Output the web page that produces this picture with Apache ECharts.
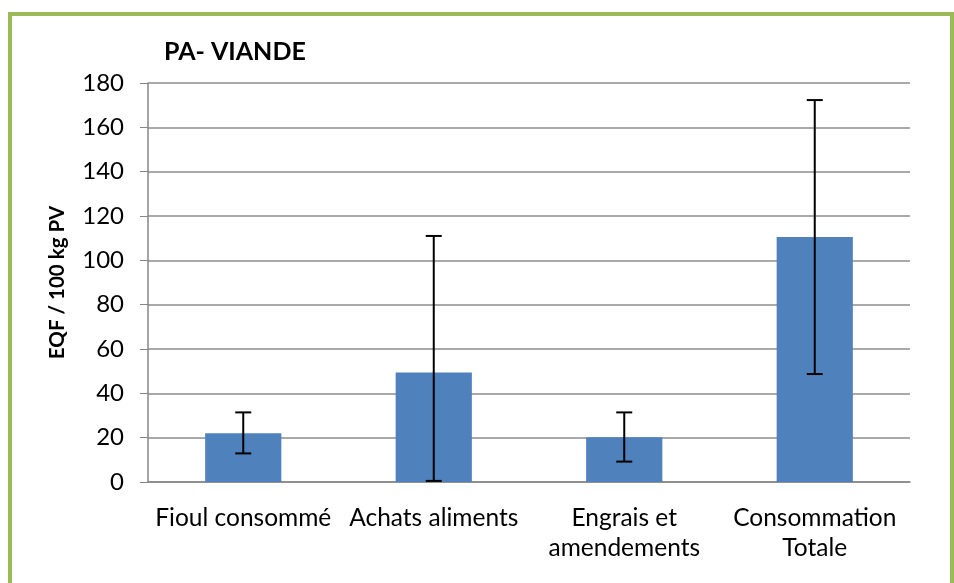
<!DOCTYPE html>
<html>
<head>
<meta charset="utf-8">
<script src="https://cdn.jsdelivr.net/npm/echarts@6/dist/echarts.min.js"></script>
<style>
  html, body { margin: 0; padding: 0; background: #fff; }
  #frame {
    position: absolute; left: 8px; top: 12px; width: 938px; height: 600px;
    border: 4px solid #9BBB59; border-bottom: none;
  }
  #main { position: absolute; left: 0; top: 0; width: 954px; height: 583px; }
</style>
</head>
<body>
<div id="frame"></div>
<div id="main"></div>
<script>
// données
var categories = ['Fioul consommé', 'Achats aliments', 'Engrais et\namendements', 'Consommation\nTotale']
var means = [22, 49.4, 20.2, 110.5]
var errLow = [12.9, 0.5, 9.2, 48.7]
var errHigh = [31.4, 111, 31.4, 172.3]
var yMin = 0
var yMax = 180
var yStep = 20

var chart = echarts.init(document.getElementById('main'))

var errData = categories.map(function (c, i) {
  return [i, errLow[i], errHigh[i]]
})

chart.setOption({
  animation: false,
  textStyle: { fontFamily: 'Lato' },
  title: {
    text: 'PA- VIANDE',
    left: 159,
    top: 34,
    textStyle: { fontFamily: 'Lato', fontWeight: 'bold', fontSize: 25, color: '#000' }
  },
  grid: { left: 148, right: 44, top: 83, bottom: 101 },
  xAxis: {
    type: 'category',
    data: categories,
    axisLine: { lineStyle: { color: '#868686', width: 1.5 } },
    axisTick: { alignWithLabel: false, length: 8, lineStyle: { color: '#868686' } },
    axisLabel: { color: '#000', fontSize: 24.5, lineHeight: 30, margin: 21, interval: 0 }
  },
  yAxis: {
    type: 'value',
    min: yMin,
    max: yMax,
    interval: yStep,
    name: 'EQF / 100 kg PV',
    nameLocation: 'middle',
    nameGap: 80,
    nameTextStyle: { fontFamily: 'Lato', fontWeight: 'bold', fontSize: 20.5, color: '#000' },
    axisLine: { show: true, lineStyle: { color: '#868686', width: 1.5 } },
    axisTick: { show: true, length: 8, lineStyle: { color: '#868686' } },
    axisLabel: { color: '#000', fontSize: 24, margin: 24 },
    splitLine: { lineStyle: { color: '#8c8c8c', width: 1.5 } }
  },
  series: [
    {
      type: 'bar',
      data: means,
      barWidth: '40%',
      itemStyle: { color: '#4F81BD' }
    },
    {
      type: 'custom',
      data: errData,
      z: 10,
      renderItem: function (params, api) {
        var x = api.value(0)
        var lo = api.coord([x, api.value(1)])
        var hi = api.coord([x, api.value(2)])
        var w = 8
        var style = { stroke: '#000', lineWidth: 2 }
        return {
          type: 'group',
          children: [
            { type: 'line', shape: { x1: lo[0], y1: lo[1], x2: hi[0], y2: hi[1] }, style: style },
            { type: 'line', shape: { x1: hi[0] - w, y1: hi[1], x2: hi[0] + w, y2: hi[1] }, style: style },
            { type: 'line', shape: { x1: lo[0] - w, y1: lo[1], x2: lo[0] + w, y2: lo[1] }, style: style }
          ]
        }
      }
    }
  ]
})
</script>
</body>
</html>
